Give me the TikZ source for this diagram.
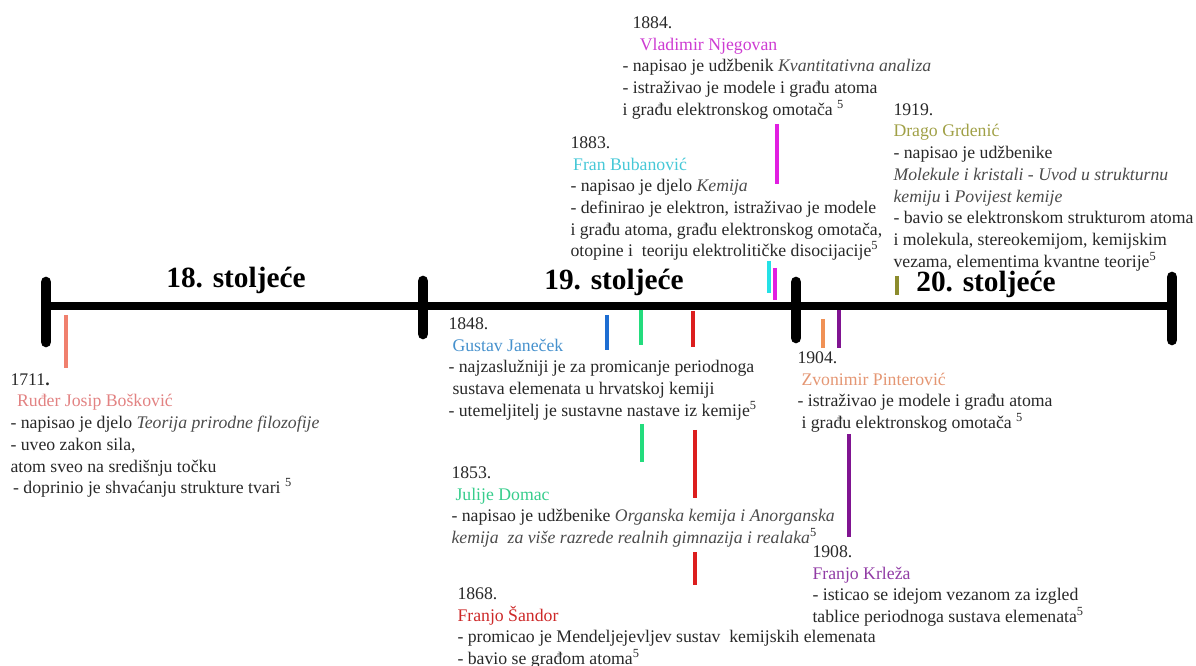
\documentclass[tikz,border=0pt]{standalone}
\usepackage{fontspec}
\setmainfont{Liberation Serif}

\definecolor{txtgray}{RGB}{40,40,40}
\definecolor{ttlgray}{RGB}{75,75,75}
% name colours
\definecolor{cRuder}{RGB}{226,130,130}
\definecolor{cGustav}{RGB}{70,145,205}
\definecolor{cJulije}{RGB}{55,205,140}
\definecolor{cSandor}{RGB}{205,40,40}
\definecolor{cVladimir}{RGB}{205,60,210}
\definecolor{cFran}{RGB}{70,200,215}
\definecolor{cDrago}{RGB}{160,160,70}
\definecolor{cZvonimir}{RGB}{228,150,115}
\definecolor{cKrleza}{RGB}{145,60,165}
% bar colours
\definecolor{bRuder}{RGB}{240,128,110}
\definecolor{bGustav}{RGB}{30,110,210}
\definecolor{bJulije}{RGB}{35,220,125}
\definecolor{bSandor}{RGB}{220,30,30}
\definecolor{bVladimir}{RGB}{225,30,225}
\definecolor{bFran}{RGB}{35,225,230}
\definecolor{bDrago}{RGB}{140,140,45}
\definecolor{bZvonimir}{RGB}{240,145,85}
\definecolor{bKrleza}{RGB}{128,20,145}

\newcommand{\ttl}[1]{{\itshape\color{ttlgray}#1}}
\newcommand{\refno}{\textsuperscript{5}}

\tikzset{every picture/.style={line width=0.75pt}}
\tikzset{
  entry/.style={anchor=north west, inner sep=0pt, align=left, text=txtgray,
    font=\fontsize{13.3}{16.3}\selectfont},
  century/.style={anchor=base, inner sep=0pt, font=\fontsize{22}{26}\selectfont\bfseries},
  axis/.style={line width=6pt},
  centbar/.style={line width=8pt, line cap=round},
  yearbar/.style={line width=2.5pt},
}

\begin{document}
\begin{tikzpicture}[x=0.75pt,y=0.75pt,yscale=-1,xscale=1]
\useasboundingbox (0,0) rectangle (1196,666);

% Timeline
\coordinate (tl) at (46,306);
\coordinate (tr) at (1172,306);
\draw [axis] (tl) -- (tr);
\draw [centbar] (46,282) -- (46,342);
\draw [centbar] (423,281) -- (423,334);
\draw [centbar] (796,282) -- (796,338);
\draw [centbar] (1172,277) -- (1172,340);

% Year bars
\draw [yearbar, bRuder] (66,315) -- (66,368);
\draw [yearbar, bGustav] (607,315) -- (607,350);
\draw [yearbar, bJulije] (641,310) -- (641,345);
\draw [yearbar, bJulije] (642,424) -- (642,462);
\draw [yearbar, bSandor] (693,311) -- (693,347);
\draw [yearbar, bSandor] (695,430) -- (695,498);
\draw [yearbar, bSandor] (695,552) -- (695,585);
\draw [yearbar, bVladimir] (777,124) -- (777,184);
\draw [yearbar, bVladimir] (775,268) -- (775,300);
\draw [yearbar, bFran] (769,261) -- (769,293);
\draw [yearbar, bDrago] (897,276) -- (897,295);
\draw [yearbar, bZvonimir] (823,319) -- (823,348);
\draw [yearbar, bKrleza] (839,310) -- (839,348);
\draw [yearbar, bKrleza] (849,434) -- (849,537);

% Century labels
\node [century] (c18) at (236,288) {18. stoljeće};
\node [century] (c19) at (614,290) {19. stoljeće};
\node [century] (c20) at (986,292) {20. stoljeće};

% Text Node
\node [entry] (b1711) at (10,373) {1711\textbf{.}\\
  \hspace*{5pt}{\color{cRuder}Ruđer Josip Bošković}\\
  - napisao je djelo \ttl{Teorija prirodne filozofije}\\
  - uveo zakon sila,\\
  atom sveo na središnju točku\\
  \hspace*{2pt}- doprinio je shvaćanju strukture tvari \refno};
% Text Node
\node [entry] (b1848) at (448,317) {1848.\\
  \hspace*{3pt}{\color{cGustav}Gustav Janeček}\\
  - najzaslužniji je za promicanje periodnoga\\
  \hspace*{3pt}sustava elemenata u hrvatskoj kemiji\\
  - utemeljitelj je sustavne nastave iz kemije\refno};
% Text Node
\node [entry] (b1853) at (451,466) {1853.\\
  \hspace*{3pt}{\color{cJulije}Julije Domac}\\
  - napisao je udžbenike \ttl{Organska kemija i Anorganska}\\
  \ttl{kemija\ \ za više razrede realnih gimnazija i realaka}\refno};
% Text Node
\node [entry] (b1868) at (457,587) {1868.\\
  {\color{cSandor}Franjo Šandor}\\
  - promicao je Mendeljejevljev sustav\ \ kemijskih elemenata\\
  - bavio se građom atoma\refno};
% Text Node
\node [entry] (b1883) at (570,136) {1883.\\
  \hspace*{2pt}{\color{cFran}Fran Bubanović}\\
  - napisao je djelo \ttl{Kemija}\\
  - definirao je elektron, istraživao je modele\\
  i građu atoma, građu elektronskog omotača,\\
  otopine i\ \ teoriju elektrolitičke disocijacije\refno};
% Text Node
\node [entry] (b1884) at (622,16) {\hspace*{7.5pt}1884.\\
  \hspace*{13pt}{\color{cVladimir}Vladimir Njegovan}\\
  - napisao je udžbenik \ttl{Kvantitativna analiza}\\
  - istraživao je modele i građu atoma\\
  i građu elektronskog omotača \refno};
% Text Node
\node [entry] (b1904) at (797,351) {1904.\\
  \hspace*{3pt}{\color{cZvonimir}Zvonimir Pinterović}\\
  - istraživao je modele i građu atoma\\
  \hspace*{3pt}i građu elektronskog omotača \refno};
% Text Node
\node [entry] (b1908) at (812,545) {1908.\\
  {\color{cKrleza}Franjo Krleža}\\
  - isticao se idejom vezanom za izgled\\
  tablice periodnoga sustava elemenata\refno};
% Text Node
\node [entry] (b1919) at (893,103) {1919.\\
  {\color{cDrago}Drago Grdenić}\\
  - napisao je udžbenike\\
  \ttl{Molekule i kristali - Uvod u strukturnu}\\
  \ttl{kemiju} i \ttl{Povijest kemije}\\
  - bavio se elektronskom strukturom atoma\\
  i molekula, stereokemijom, kemijskim\\
  vezama, elementima kvantne teorije\refno};

\end{tikzpicture}
\end{document}
